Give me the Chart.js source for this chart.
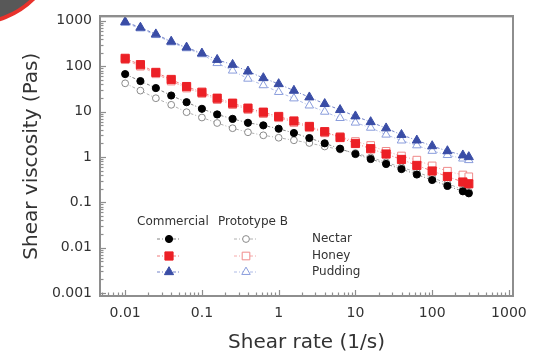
<!DOCTYPE html>
<html>
<head>
<meta charset="utf-8">
<script src="https://cdn.jsdelivr.net/npm/chart.js@4"></script>
<style>
  html, body { margin: 0; padding: 0; background: #fff; }
  #wrap { position: relative; width: 542px; height: 352px; overflow: hidden; }
  #corner {
    position: absolute; left: -110px; top: -145px; width: 170px; height: 170px;
    border-radius: 50%; background: #585858; border: 4px solid #e8322c; box-sizing: border-box;
  }
</style>
</head>
<body>
<div id="wrap">
  <canvas id="chart" width="542" height="352"></canvas>
  <div id="corner"></div>
</div>
<script>
// Datos (escala log-log)
const shearRate = [0.01, 0.0158, 0.0251, 0.0398, 0.0631, 0.1, 0.158, 0.251, 0.398, 0.631,
                   1, 1.58, 2.51, 3.98, 6.31, 10, 15.8, 25.1, 39.8, 63.1, 100, 158, 251, 300];

const nectarCommercial = [67, 47, 33, 22.6, 16.1, 11.5, 8.65, 6.9, 5.66, 4.97, 4.18, 3.37,
                          2.61, 2.0, 1.52, 1.16, 0.9, 0.7, 0.54, 0.41, 0.31, 0.23, 0.175, 0.158];
const nectarPrototype = [42, 29, 19.7, 14.1, 9.7, 7.4, 5.6, 4.3, 3.5, 3.0, 2.65, 2.33,
                         2.03, 1.7, 1.46, 1.22, 0.975, 0.76, 0.59, 0.46, 0.35, 0.26, 0.19, 0.17];
const honeyCommercial = [149, 108, 73, 51, 35.6, 26.7, 19.7, 15.3, 11.9, 9.7, 7.8, 6.2,
                         4.7, 3.6, 2.68, 1.98, 1.52, 1.16, 0.88, 0.65, 0.49, 0.37, 0.28, 0.256];
const honeyPrototype = [139, 100, 68, 47, 33, 25, 18.3, 14.2, 11.1, 9.0, 7.3, 5.75,
                        4.4, 3.4, 2.82, 2.19, 1.79, 1.33, 1.05, 0.85, 0.635, 0.485, 0.4, 0.365];
const puddingCommercial = [950, 713, 508, 351, 260, 192, 139, 108, 77, 55, 40.6, 29,
                           20.7, 14.8, 10.9, 7.9, 5.9, 4.3, 3.08, 2.32, 1.74, 1.35, 1.09, 1.0];
const puddingPrototype = [900, 680, 485, 335, 248, 183, 117, 80, 53, 38, 27, 19.5,
                          13.6, 9.9, 7.2, 5.7, 4.4, 3.1, 2.3, 1.8, 1.36, 1.1, 0.92, 0.85];

const xTicks = [0.01, 0.1, 1, 10, 100, 1000];
const yTicks = [0.001, 0.01, 0.1, 1, 10, 100, 1000];

const legendGroups = ['Commercial', 'Prototype B'];
const legendRows = ['Nectar', 'Honey', 'Pudding'];

const FONT = '"DejaVu Sans", Verdana, sans-serif';
const TEXT = '#333';
const FRAME = '#8e8e8e';
const X_MIN = 0.0047, X_MAX = 1130;
const Y_MIN = 0.00086, Y_MAX = 1254;

// estilos de cada serie
const styles = {
    nectarC:   { point: 'circle',   radius: 3.6, fill: '#000',    stroke: '#000',    line: '#808080' },
    nectarP:   { point: 'circle',   radius: 3.4, fill: '#fff',    stroke: '#8a8a8a', line: '#b0b0b0' },
    honeyC:    { point: 'rect',     radius: 5.8, fill: '#ec2026', stroke: '#ec2026', line: '#f07a7a' },
    honeyP:    { point: 'rect',     radius: 5.4, fill: '#fff',    stroke: '#f08a8a', line: '#f6aaaa' },
    puddingC:  { point: 'triangle', radius: 5.3, fill: '#3a4da6', stroke: '#3a4da6', line: '#7282c8' },
    puddingP:  { point: 'triangle', radius: 4.9, fill: '#fff',    stroke: '#8a9ddc', line: '#aebbe6' }
};

function makeDataset(label, values, st, order) {
    return {
        label: label,
        data: shearRate.map((x, i) => ({ x: x, y: values[i] })),
        borderColor: st.line,
        borderWidth: 1,
        borderDash: [3, 2, 1, 2],
        pointStyle: st.point,
        pointRadius: st.radius,
        pointHoverRadius: st.radius,
        pointBackgroundColor: st.fill,
        pointBorderColor: st.stroke,
        pointBorderWidth: 1,
        tension: 0,
        order: order
    };
}

// escalas vacías arriba y a la derecha, solo para cerrar el marco
function frameScale(axis, position, min, max) {
    return {
        type: 'logarithmic', axis: axis, position: position, min: min, max: max,
        grid: { display: false, drawTicks: false },
        border: { display: true, color: FRAME, width: 2 },
        ticks: { display: false },
        afterFit: s => { if (axis === 'x') s.height = 0; else s.width = 0; }
    };
}

// marcas internas, marco y leyenda
const overlayPlugin = {
    id: 'overlay',
    afterDraw(chart) {
        const ctx = chart.ctx;
        const a = chart.chartArea;
        const sx = chart.scales.x;
        const sy = chart.scales.y;
        ctx.save();
        ctx.setLineDash([]);
        ctx.strokeStyle = FRAME;
        ctx.lineWidth = 1.2;
        for (let e = -3; e <= 3; e++) {
            for (let m = 1; m <= 9; m++) {
                const v = m * Math.pow(10, e);
                const len = m === 1 ? 6 : 3.5;
                const px = sx.getPixelForValue(v);
                if (px >= a.left && px <= a.right) {
                    ctx.beginPath();
                    ctx.moveTo(Math.round(px) + 0.5, a.bottom);
                    ctx.lineTo(Math.round(px) + 0.5, a.bottom - len);
                    ctx.stroke();
                }
                const py = sy.getPixelForValue(v);
                if (py >= a.top && py <= a.bottom) {
                    ctx.beginPath();
                    ctx.moveTo(a.left, Math.round(py) + 0.5);
                    ctx.lineTo(a.left + len, Math.round(py) + 0.5);
                    ctx.stroke();
                }
            }
        }
        ctx.lineWidth = 2;
        ctx.strokeRect(a.left, a.top, a.right - a.left, a.bottom - a.top);

        const groupX = [137, 218];
        const markX = [169, 246];
        const rowY = [239, 256, 272];
        const keys = [['nectarC', 'nectarP'], ['honeyC', 'honeyP'], ['puddingC', 'puddingP']];
        ctx.font = '12px ' + FONT;
        ctx.textBaseline = 'middle';
        ctx.textAlign = 'left';
        ctx.fillStyle = TEXT;
        legendGroups.forEach((g, i) => ctx.fillText(g, groupX[i], 222));
        legendRows.forEach((r, i) => {
            ctx.fillStyle = TEXT;
            ctx.fillText(r, 312, rowY[i]);
            keys[i].forEach((k, j) => {
                const st = styles[k];
                ctx.strokeStyle = st.line;
                ctx.lineWidth = 1;
                ctx.setLineDash([3, 2, 1, 2]);
                ctx.beginPath();
                ctx.moveTo(markX[j] - 12, rowY[i]);
                ctx.lineTo(markX[j] + 12, rowY[i]);
                ctx.stroke();
                ctx.setLineDash([]);
                ctx.fillStyle = st.fill;
                ctx.strokeStyle = st.stroke;
                Chart.helpers.drawPoint(ctx, { pointStyle: st.point, radius: st.radius, borderWidth: 1, rotation: 0 }, markX[j], rowY[i]);
            });
        });
        ctx.restore();
    }
};

new Chart(document.getElementById('chart'), {
    type: 'line',
    data: {
        datasets: [
            makeDataset('Nectar Commercial', nectarCommercial, styles.nectarC, 0),
            makeDataset('Honey Commercial', honeyCommercial, styles.honeyC, 0),
            makeDataset('Pudding Commercial', puddingCommercial, styles.puddingC, 0),
            makeDataset('Nectar Prototype B', nectarPrototype, styles.nectarP, 1),
            makeDataset('Honey Prototype B', honeyPrototype, styles.honeyP, 1),
            makeDataset('Pudding Prototype B', puddingPrototype, styles.puddingP, 1)
        ]
    },
    options: {
        responsive: false,
        animation: false,
        devicePixelRatio: 1,
        layout: { padding: { top: 13, right: 29, left: 0, bottom: 0 } },
        plugins: { legend: { display: false }, tooltip: { enabled: false } },
        scales: {
            x: {
                type: 'logarithmic',
                min: X_MIN,
                max: X_MAX,
                grid: { display: false, drawTicks: false },
                border: { display: true, color: FRAME, width: 2 },
                afterBuildTicks: s => { s.ticks = xTicks.map(v => ({ value: v })); },
                afterFit: s => { s.height = 56; },
                ticks: {
                    autoSkip: false, maxRotation: 0, padding: 9, color: TEXT,
                    font: { family: FONT, size: 14 },
                    callback: v => String(v)
                },
                title: {
                    display: true, text: 'Shear rate (1/s)', color: TEXT,
                    font: { family: FONT, size: 20 }, padding: { top: 0, bottom: -3 }
                }
            },
            y: {
                type: 'logarithmic',
                min: Y_MIN,
                max: Y_MAX,
                grid: { display: false, drawTicks: false },
                border: { display: true, color: FRAME, width: 2 },
                afterBuildTicks: s => { s.ticks = yTicks.map(v => ({ value: v })); },
                afterFit: s => { s.width = 100; },
                ticks: {
                    autoSkip: false, padding: 8, color: TEXT,
                    font: { family: FONT, size: 14 },
                    callback: v => String(v)
                },
                title: {
                    display: true, text: 'Shear viscosity (Pas)', color: TEXT,
                    font: { family: FONT, size: 20 }, padding: { top: 20, bottom: 0 }
                }
            },
            xTop: frameScale('x', 'top', X_MIN, X_MAX),
            yRight: frameScale('y', 'right', Y_MIN, Y_MAX)
        }
    },
    plugins: [overlayPlugin]
});
</script>
</body>
</html>
